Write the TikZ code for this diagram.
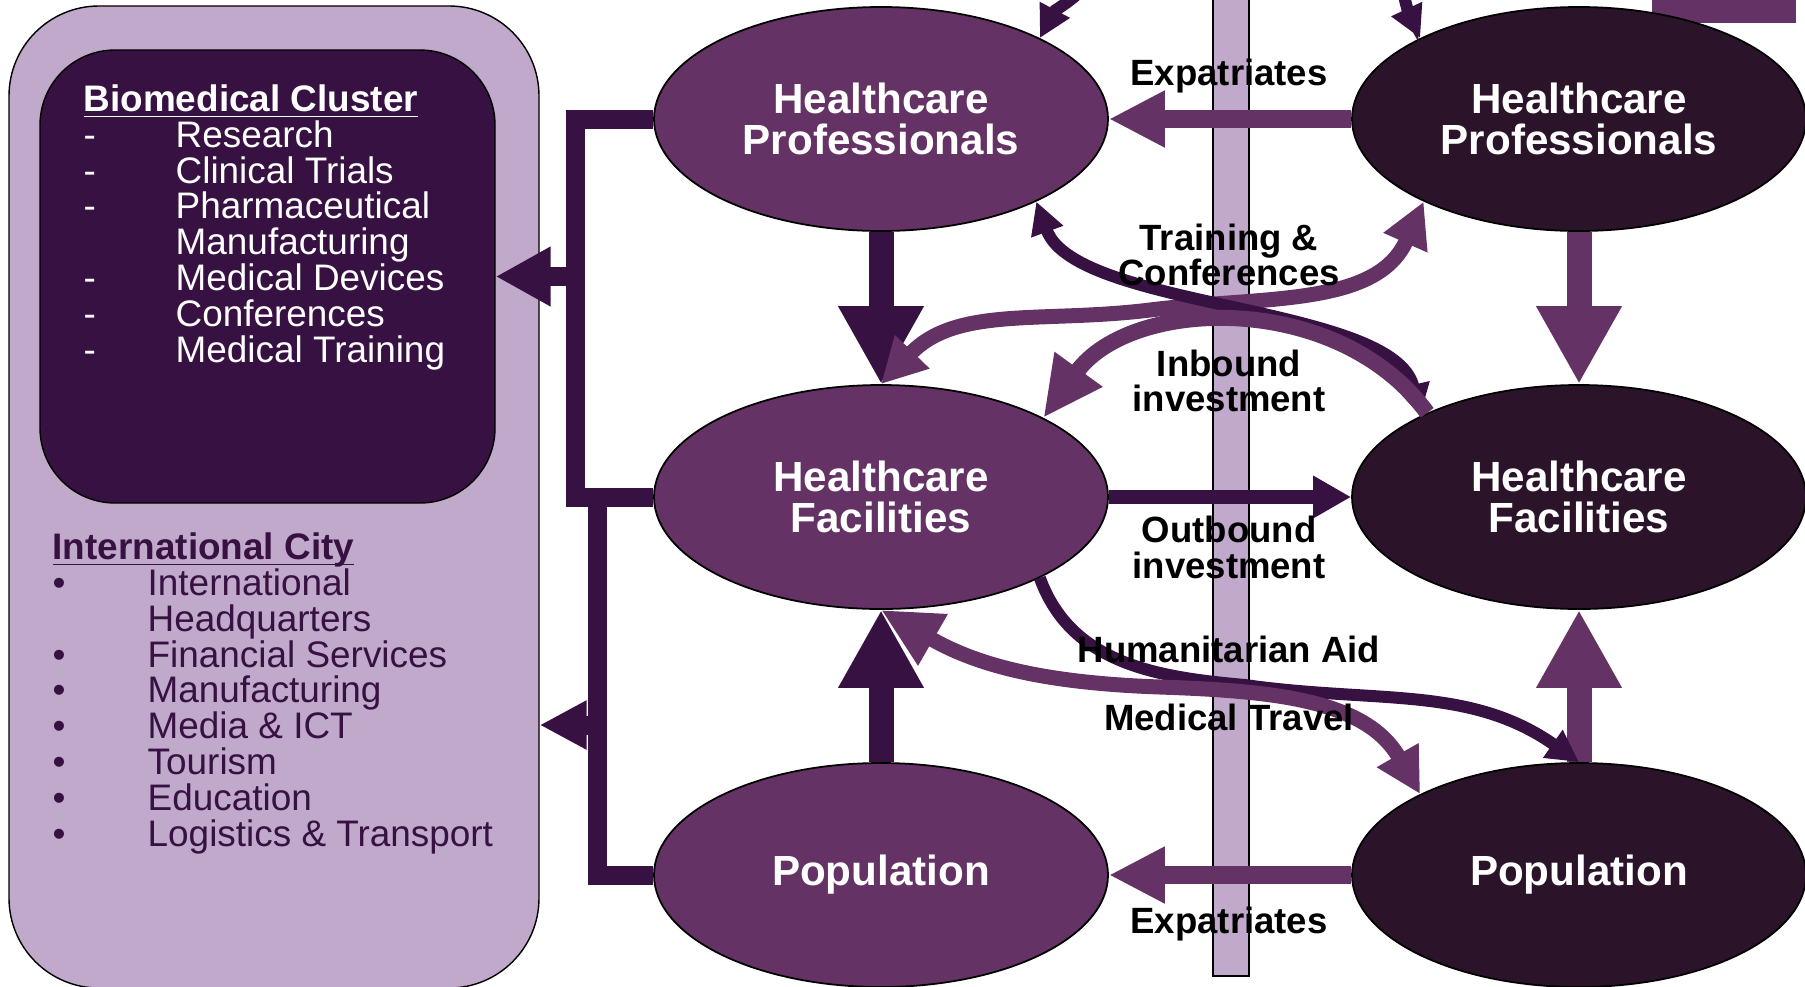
\documentclass[tikz,border=0pt]{standalone}
\usepackage{fontspec}
\setmainfont{Liberation Sans}
\usetikzlibrary{shapes.geometric, arrows.meta}

\definecolor{lilac}{HTML}{C0A9CA}
\definecolor{plumdark}{HTML}{361141}
\definecolor{plum}{HTML}{643264}
\definecolor{plumblack}{HTML}{2B1429}

\newcommand{\biodash}{\makebox[0.92cm][l]{-}}
\newcommand{\citydot}{\makebox[0.95cm][l]{\textbullet}}
\newcommand{\listhead}[1]{\underline{\raisebox{0pt}[\height][0pt]{\textbf{#1}}}}

\begin{document}
\begin{tikzpicture}[
    hub/.style={ellipse, draw=black, line width=0.5pt, minimum width=4.54cm, minimum height=2.24cm,
        inner sep=0pt, align=center, text=white, font=\fontsize{12}{11.7}\selectfont\bfseries},
    home/.style={hub, fill=plum},
    abroad/.style={hub, fill=plumblack},
    flowlabel/.style={align=center, inner sep=0pt, font=\fontsize{10.4}{10.2}\selectfont\bfseries},
    listtext/.style={align=left, anchor=north west, inner sep=0pt, font=\fontsize{10.5}{10.2}\selectfont},
    bigarrow/.style={line width=0.25cm, -{Triangle[width=0.8cm,length=0.78cm]}},
    expat/.style={plum, line width=0.18cm, -{Triangle[width=0.53cm,length=0.56cm]}},
    bracket/.style={plumdark, line width=0.19cm, line join=miter},
    darkcurve/.style={plumdark, line width=0.12cm},
    medcurve/.style={plum, line width=0.15cm},
    darktip/.tip={Triangle[width=0.32cm,length=0.32cm]},
    medtip/.tip={Triangle[width=0.45cm,length=0.45cm]},
    bigmedtip/.tip={Triangle[width=0.55cm,length=0.6cm]}
]
    \useasboundingbox (0,0) rectangle (18.05,9.86);
    \clip (0,0) rectangle (18.05,9.86);

    % boxes on the left
    \fill[plum] (16.52,9.63) rectangle (17.96,10.0);
    \node[draw=black, fill=lilac, rounded corners=0.9cm, minimum width=5.30cm, minimum height=9.82cm,
        inner sep=0pt] (city) at (2.74,4.89) {};
    \node[draw=black, fill=plumdark, rounded corners=0.75cm, minimum width=4.55cm, minimum height=4.53cm,
        inner sep=0pt] (bio) at (2.675,7.095) {};
    \node[listtext, text=white] (biotext) at (0.83,9.02) {\listhead{Biomedical Cluster}\\
        \biodash Research\\ \biodash Clinical Trials\\ \biodash Pharmaceutical\\
        \makebox[0.92cm][l]{}Manufacturing\\ \biodash Medical Devices\\ \biodash Conferences\\
        \biodash Medical Training};
    \node[listtext, text=plumdark] (citytext) at (0.52,4.54) {\listhead{International City}\\
        \citydot International\\ \makebox[0.95cm][l]{}Headquarters\\ \citydot Financial Services\\
        \citydot Manufacturing\\ \citydot Media \& ICT\\ \citydot Tourism\\ \citydot Education\\
        \citydot Logistics \& Transport};

    % border bar
    \draw[black, fill=lilac, line width=0.5pt] (12.13,0.10) rectangle (12.49,10.2);

    % the six flows
    \node[home] (HPl) at (8.81,8.67) {Healthcare\\Professionals};
    \node[abroad] (HPr) at (15.79,8.67) {Healthcare\\Professionals};
    \node[home] (HFl) at (8.81,4.89) {Healthcare\\Facilities};
    \node[abroad] (HFr) at (15.79,4.89) {Healthcare\\Facilities};
    \node[home] (Popl) at (8.81,1.11) {Population};
    \node[abroad] (Popr) at (15.79,1.11) {Population};

    \draw[bigarrow, plumdark] (HPl.south) -- (HFl.north);
    \draw[bigarrow, plumdark] (Popl.north) -- (HFl.south);
    \draw[bigarrow, plum] (HPr.south) -- (HFr.north);
    \draw[bigarrow, plum] (Popr.north) -- (HFr.south);
    \draw[expat] (HPr.west) -- (HPl.east);
    \draw[expat] (Popr.west) -- (Popl.east);
    \draw[plumdark, line width=0.14cm, -{Triangle[width=0.4cm,length=0.38cm]}] (HFl.east) -- (HFr.west);

    % links to the left boxes
    \coordinate (knee1) at (5.75,4.89);
    \coordinate (knee2) at (5.97,4.89);
    \coordinate (tap1) at (5.75,7.095);
    \coordinate (tap2) at (5.97,2.61);
    \draw[bracket] (HPl.west) -| (knee1) -- (HFl.west);
    \draw[bracket] (HFl.west) -- (knee2) |- (Popl.west);
    \draw[bracket, -{Triangle[width=0.56cm,length=0.55cm]}] (tap1) -- (bio.east);
    \draw[bracket, -{Triangle[width=0.46cm,length=0.47cm]}] (tap2) -- (tap2 -| city.east);

    % curved flows
    \coordinate (offtopL) at (10.95,10.1);
    \coordinate (offtopR) at (14.0,10.1);
    \draw[darkcurve, -darktip] (offtopL) to[out=230, in=62] (HPl.27);
    \draw[darkcurve, -darktip] (offtopR) to[out=-80, in=115] (HPr.153);
    \draw[medcurve, medtip-medtip] (HPr.208) to[out=246, in=7] (11.5,6.76) to[out=187, in=46] (HFl.north);
    \draw[darkcurve, darktip-darktip] (HPl.-28) to[out=-70, in=103, looseness=0.67] (HFr.153);
    \draw[medcurve, line width=0.16cm, -bigmedtip] (HFr.151) to[out=126, in=54] (HFl.26);
    \draw[darkcurve, -darktip] (HFl.-27) to[out=-70, in=175] (12.45,3.01) to[out=-8, in=145] (Popr.north);
    \draw[medcurve, bigmedtip-medtip] (HFl.south) to[out=-30, in=178] (11.6,2.99) to[out=-2, in=120] (Popr.153);

    % labels
    \node[flowlabel] (expTop) at (12.29,9.10) {Expatriates};
    \node[flowlabel] (training) at (12.29,7.31) {Training \&\\Conferences};
    \node[flowlabel] (inbound) at (12.29,6.05) {Inbound\\investment};
    \node[flowlabel] (outbound) at (12.29,4.39) {Outbound\\investment};
    \node[flowlabel] (aid) at (12.29,3.37) {Humanitarian Aid};
    \node[flowlabel] (travel) at (12.29,2.69) {Medical Travel};
    \node[flowlabel] (expBottom) at (12.29,0.62) {Expatriates};
\end{tikzpicture}
\end{document}
